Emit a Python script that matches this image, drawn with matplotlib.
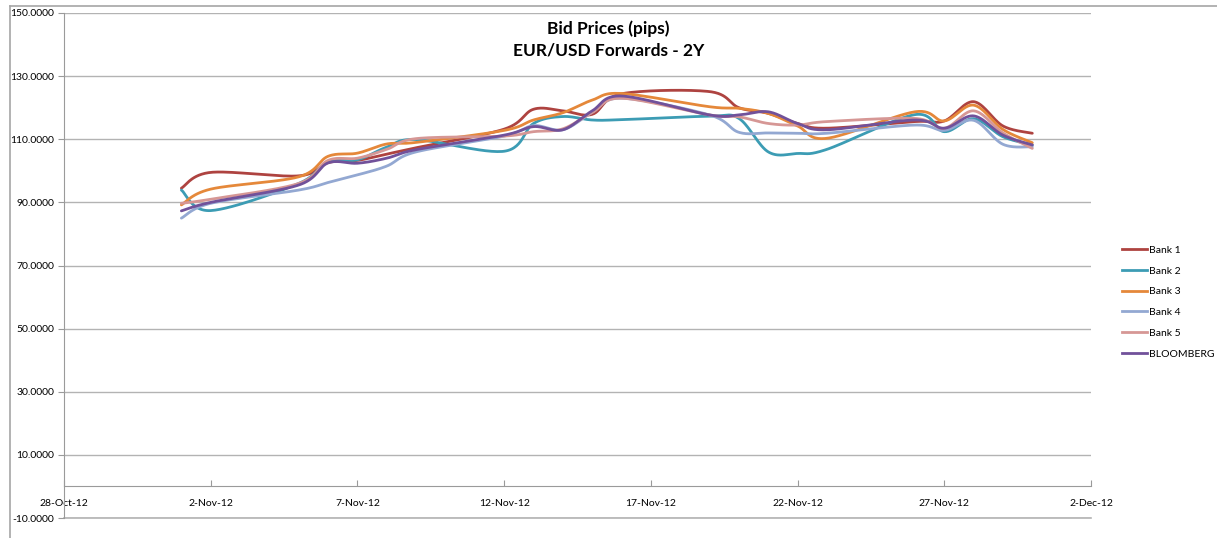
import datetime as dt
import numpy as np
import matplotlib
matplotlib.use("Agg")
import matplotlib.pyplot as plt
import matplotlib.dates as mdates
from matplotlib.lines import Line2D

plt.rcParams["font.family"] = ["Lato", "DejaVu Sans"]

# business days in Nov 2012
days = [1, 2, 5, 6, 7, 8, 9, 12, 13, 14, 15, 16, 19, 20, 21, 22, 23, 26, 27, 28, 29, 30]
dates = [dt.date(2012, 11, d) for d in days]

bank1 = [94.5, 99.5, 98.4, 102.6, 103.3, 105.3, 107.3, 113.2, 119.5, 119.0, 117.9, 124.4,
         125.1, 120.0, 118.2, 115.0, 113.5, 115.6, 115.8, 121.9, 114.2, 111.9]
bank2 = [93.9, 87.4, 96.0, 103.0, 103.5, 107.5, 109.9, 106.2, 115.0, 117.2, 116.1, 116.2,
         117.3, 116.6, 106.0, 105.5, 106.8, 117.8, 112.4, 116.5, 110.8, 108.2]
bank3 = [89.2, 94.2, 98.1, 104.6, 105.6, 108.5, 109.0, 112.8, 116.1, 118.4, 122.4, 124.5,
         120.3, 119.8, 118.2, 114.2, 110.3, 118.7, 115.8, 120.8, 113.1, 108.9]
bank4 = [85.0, 89.7, 93.9, 96.3, 98.7, 101.5, 106.0, 111.0, 114.3, 113.0, 118.5, 123.0,
         117.7, 112.2, 112.0, 111.9, 111.9, 114.5, 112.8, 116.0, 108.4, 107.6]
bank5 = [89.7, 91.0, 96.0, 103.3, 104.0, 106.8, 110.2, 111.0, 112.4, 113.3, 118.5, 123.0,
         117.7, 117.1, 115.0, 114.5, 115.6, 116.6, 113.5, 119.0, 112.0, 107.1]
bloomberg = [87.3, 90.0, 95.5, 102.5, 102.4, 104.0, 106.7, 111.3, 114.0, 113.0, 119.0, 123.7,
             117.7, 117.7, 118.7, 115.0, 113.0, 116.1, 113.5, 117.4, 111.3, 108.2]

series_names = ["Bank 1", "Bank 2", "Bank 3", "Bank 4", "Bank 5", "BLOOMBERG"]
series_values = [bank1, bank2, bank3, bank4, bank5, bloomberg]
colors = ["#AE4340", "#3C9CB4", "#E5883A", "#93A8D2", "#D69795", "#71519A"]


def smooth(x, y, n=30):
    # Excel-like smoothed line: bezier segments with catmull-rom control points
    x = np.asarray(x, float)
    y = np.asarray(y, float)
    px = np.concatenate([[x[0]], x, [x[-1]]])
    py = np.concatenate([[y[0]], y, [y[-1]]])
    xs, ys = [], []
    t = np.linspace(0, 1, n)
    for i in range(1, len(px) - 2):
        x0, x1, x2, x3 = px[i - 1], px[i], px[i + 1], px[i + 2]
        y0, y1, y2, y3 = py[i - 1], py[i], py[i + 1], py[i + 2]
        c1x, c1y = x1 + (x2 - x0) / 6, y1 + (y2 - y0) / 6
        c2x, c2y = x2 - (x3 - x1) / 6, y2 - (y3 - y1) / 6
        bx = (1 - t) ** 3 * x1 + 3 * (1 - t) ** 2 * t * c1x + 3 * (1 - t) * t ** 2 * c2x + t ** 3 * x2
        by = (1 - t) ** 3 * y1 + 3 * (1 - t) ** 2 * t * c1y + 3 * (1 - t) * t ** 2 * c2y + t ** 3 * y2
        xs.extend(bx)
        ys.extend(by)
    return np.array(xs), np.array(ys)


fig = plt.figure(figsize=(12.17, 5.38), dpi=100)
ax = fig.add_axes([64 / 1217, 1 - 518 / 538, (1091 - 64) / 1217, (518 - 13) / 538])

# chart area frame
fig.add_artist(Line2D([10 / 1217, 10 / 1217], [0, 1 - 6 / 538], color="#A6A6A6", lw=1.2,
                      transform=fig.transFigure))
fig.add_artist(Line2D([10 / 1217, 1], [1 - 6 / 538, 1 - 6 / 538], color="#A6A6A6", lw=1.2,
                      transform=fig.transFigure))

xnum = mdates.date2num(dates)
for name, vals, col in zip(series_names, series_values, colors):
    sx, sy = smooth(xnum, vals)
    ax.plot(sx, sy, color=col, lw=2.0, label=name, solid_capstyle="round")

start = dt.date(2012, 10, 28)
ticks = [start + dt.timedelta(days=5 * k) for k in range(8)]
ax.set_xlim(mdates.date2num(ticks[0]), mdates.date2num(ticks[-1]))
ax.set_xticks(mdates.date2num(ticks))
ax.set_xticklabels([f"{d.day}-{d.strftime('%b-%y')}" for d in ticks])

yticks = np.arange(-10, 151, 20)
ax.set_ylim(-10, 150)
ax.set_yticks(yticks)
ax.set_yticklabels([f"{v:.4f}" for v in yticks])

ax.grid(axis="y", color="#B3B3B3", lw=1)
ax.axhline(-10, color="#B3B3B3", lw=1.2, clip_on=False, zorder=0)
ax.set_axisbelow(True)
for s in ["top", "right"]:
    ax.spines[s].set_visible(False)
ax.spines["bottom"].set_position(("data", 0))
ax.spines["bottom"].set_color("#9A9A9A")
ax.spines["left"].set_color("#9A9A9A")
ax.tick_params(axis="x", direction="in", length=4, color="#9A9A9A", labelsize=7.5, pad=9)
ax.tick_params(axis="y", direction="out", length=4, color="#9A9A9A", labelsize=7.5, pad=3)

fig.text(0.5, 1 - 29 / 538, "Bid Prices (pips)", ha="center", va="center",
         fontsize=12.5, fontweight="bold")
fig.text(0.5, 1 - 51 / 538, "EUR/USD Forwards - 2Y", ha="center", va="center",
         fontsize=12.5, fontweight="bold")

handles = [Line2D([], [], color=c, lw=2.0) for c in colors]
fig.legend(handles, series_names, loc="center left", bbox_to_anchor=(1113 / 1217, 1 - 302 / 538),
           frameon=False, fontsize=7.5, handlelength=2.4, handletextpad=0.15, labelspacing=1.1)

fig.savefig("out.png", dpi=100)
